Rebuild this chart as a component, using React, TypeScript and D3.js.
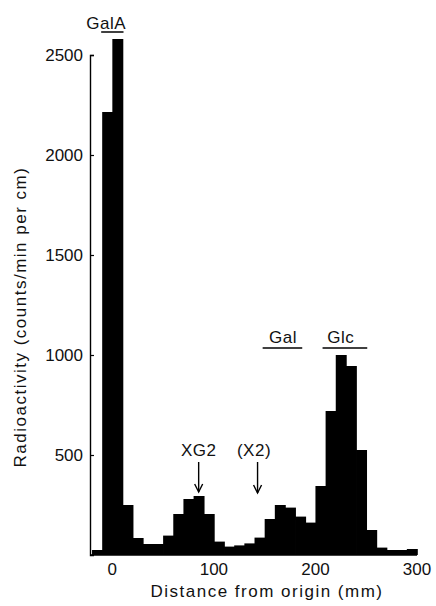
import React, { useEffect, useRef } from "react";
import * as d3 from "d3";

const WIDTH = 436;
const HEIGHT = 606;
const FONT = "'Liberation Sans', Arial, Helvetica, sans-serif";

// left edge of each 1 cm bin (mm) and the counts in it
const binStarts = [
  -20, -10, 0, 10, 20, 30, 40, 50, 60, 70, 80, 90, 100, 110, 120, 130, 140,
  150, 160, 170, 180, 190, 200, 210, 220, 230, 240, 250, 260, 270, 280, 290,
];
const counts = [
  25, 2215, 2580, 250, 85, 55, 55, 97, 205, 280, 295, 205, 67, 42, 48, 58, 87,
  180, 250, 237, 192, 162, 345, 720, 1000, 945, 525, 125, 37, 25, 25, 30,
];
const BIN_WIDTH = 10;

const yTicks = [500, 1000, 1500, 2000, 2500];
const xTicks = [0, 100, 200, 300];

// marker labels (position in mm / counts)
const labelNames = ["GalA", "XG2", "(X2)", "Gal", "Glc"];
const labelX = [-6, 85, 139.5, 168, 225];
const labelY = [2630, 495, 495, 1060, 1060];

// standards underlined
const barNames = ["GalA", "Gal", "Glc"];
const barFrom = [-11, 148, 207];
const barTo = [11, 187, 251];
const barY = [2615, 1035, 1035];

// arrows
const arrowX = [85, 143];
const arrowTop = [465, 465];
const arrowTip = [315, 310];

const x = d3.scaleLinear().domain([-22, 300]).range([90, 417]);
const y = d3.scaleLinear().domain([0, 2500]).range([555, 55]);

const Histogram = () => {
  const axisRef = useRef<SVGGElement>(null);

  useEffect(() => {
    const g = d3.select(axisRef.current);
    g.selectAll("*").remove();
    const yAxis = d3
      .axisLeft(y)
      .tickValues(yTicks)
      .tickSizeInner(-4)
      .tickSizeOuter(-4)
      .tickPadding(7)
      .tickFormat(d3.format("d"));
    g.append("g")
      .attr("transform", `translate(${x(-22)},0)`)
      .call(yAxis)
      .call((s) => s.select(".domain").attr("stroke", "#000").attr("stroke-width", 1.4))
      .call((s) => s.selectAll(".tick line").attr("stroke", "#000").attr("stroke-width", 1.2))
      .call((s) =>
        s
          .selectAll(".tick text")
          .attr("font-family", FONT)
          .attr("font-size", 17)
          .attr("fill", "#111")
      );
  }, []);

  return (
    <svg
      width={WIDTH}
      height={HEIGHT}
      style={{ position: "absolute", left: 0, top: 0, background: "#fff" }}
    >
      {binStarts.map((b, i) => (
        <rect
          key={b}
          x={x(b)}
          y={y(counts[i])}
          width={x(b + BIN_WIDTH) - x(b) + 0.8}
          height={y(0) - y(counts[i])}
          fill="#000"
        />
      ))}
      <line x1={x(-22)} x2={x(300)} y1={y(0)} y2={y(0)} stroke="#000" strokeWidth={1.5} />
      <g ref={axisRef} />

      {xTicks.map((t) => (
        <text
          key={t}
          x={x(t)}
          y={575}
          textAnchor="middle"
          fontFamily={FONT}
          fontSize={17}
          fill="#111"
        >
          {t}
        </text>
      ))}

      <text
        x={267}
        y={597}
        textAnchor="middle"
        fontFamily={FONT}
        fontSize={17}
        letterSpacing={1.5}
        fill="#111"
      >
        Distance from origin (mm)
      </text>
      <text
        transform={`translate(26,${(y(0) + y(2500)) / 2 + 12}) rotate(-90)`}
        textAnchor="middle"
        fontFamily={FONT}
        fontSize={17}
        letterSpacing={1.5}
        fill="#111"
      >
        Radioactivity (counts/min per cm)
      </text>

      {labelNames.map((n, i) => (
        <text
          key={n}
          x={x(labelX[i])}
          y={y(labelY[i])}
          textAnchor="middle"
          fontFamily={FONT}
          fontSize={17}
          letterSpacing={0.5}
          fill="#111"
        >
          {n}
        </text>
      ))}

      {barNames.map((n, i) => (
        <line
          key={n}
          x1={x(barFrom[i])}
          x2={x(barTo[i])}
          y1={y(barY[i])}
          y2={y(barY[i])}
          stroke="#000"
          strokeWidth={1.5}
        />
      ))}

      {arrowX.map((a, i) => {
        const ax = x(a);
        const top = y(arrowTop[i]);
        const tip = y(arrowTip[i]);
        return (
          <g key={a} stroke="#000" strokeWidth={1.4} fill="none">
            <line x1={ax} x2={ax} y1={top} y2={tip} />
            <path d={`M${ax - 4},${tip - 8}L${ax},${tip}L${ax + 4},${tip - 8}`} />
          </g>
        );
      })}
    </svg>
  );
};

export default function App() {
  return <Histogram />;
}
